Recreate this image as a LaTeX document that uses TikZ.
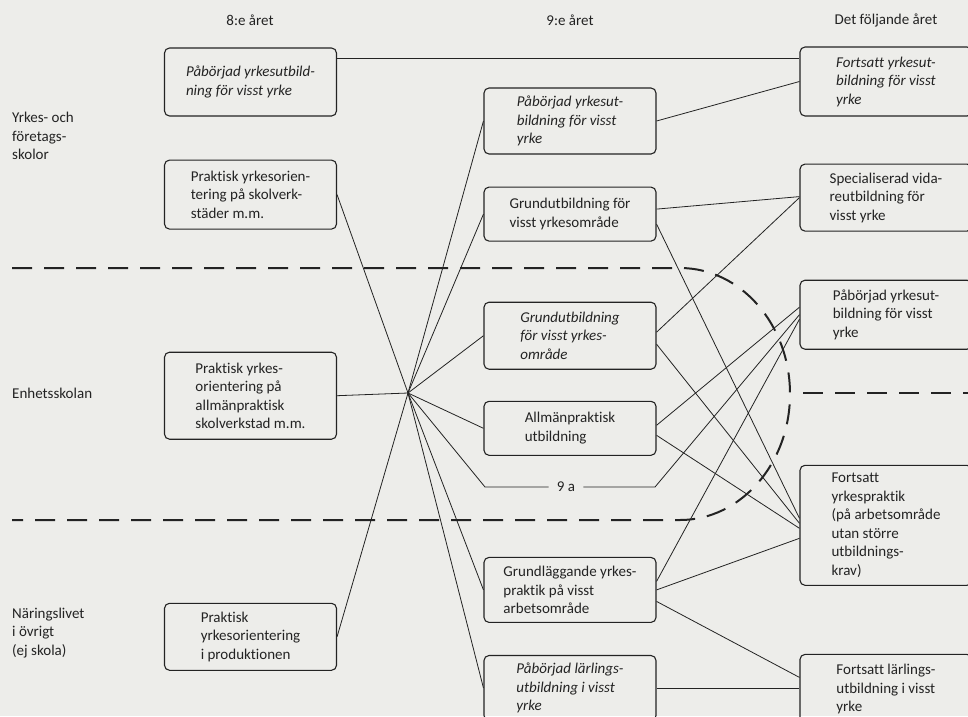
\documentclass[tikz,border=0pt]{standalone}
\usepackage{fontspec}
\setmainfont{Carlito}[Ligatures=NoCommon]
\usepackage{xcolor}
\usetikzlibrary{positioning}
\definecolor{paper}{RGB}{237,237,234}
\definecolor{ink}{RGB}{35,35,35}
\newcommand{\boxfont}{\fontsize{15}{18.5}\selectfont}
\tikzstyle{box}=  [draw=ink,
text=ink,
rounded corners=5pt,
line width=1.1pt,
align=left,
minimum width=172pt,
inner sep=4pt,
font=\boxfont,
]
\tikzstyle{itbox}=[box,
font=\boxfont\itshape,
]
\tikzstyle{lbl}=  [text=ink,
align=left,
anchor=west,
inner sep=0pt,
]
\tikzstyle{conn}= [draw=ink,
line width=0.8pt,
]
\tikzstyle{sep}=  [draw=ink,
line width=2pt,
dash pattern=on 20pt off 12pt,
]

\begin{document}
\begin{tikzpicture}[x=1pt,y=1pt,font=\boxfont]
        \fill[paper] (0,0) rectangle (968,-716);
        \useasboundingbox (0,0) rectangle (968,-716);

        \node[text=ink] (h8) at (250,-20) {8:e året};
        \node[text=ink] (h9) at (570,-20) {9:e året};
        \node[text=ink] (hnext) at (886,-20) {Det följande året};

        \node[lbl] (yrkes) at (12,-136) {Yrkes- och\\företags-\\skolor};
        \node[lbl] (enhet) at (12,-393) {Enhetsskolan};
        \node[lbl] (naring) at (12,-633) {Näringslivet\\i övrigt\\(ej skola)};

        % 8:e aret
        \node[itbox, minimum height=68pt] (b81) at (250.5,-82) {Påbörjad yrkesutbild-\\ning för visst yrke};
        \node[box, minimum height=69pt, below=43pt of b81] (b82) {Praktisk yrkesorien-\\tering på skolverk-\\städer m.m.};
        \node[box, minimum height=87pt, below=122pt of b82] (b83) {Praktisk yrkes-\\orientering på\\allmänpraktisk\\skolverkstad m.m.};
        \node[box, minimum height=67pt, below=163pt of b83] (b84) {Praktisk\\yrkesorientering\\i produktionen};

        % 9:e aret
        \node[itbox, minimum height=66pt] (c1) at (570,-121) {Påbörjad yrkesut-\\bildning för visst\\yrke};
        \node[box, minimum height=54pt, below=32pt of c1] (c2) {Grundutbildning för\\visst yrkesområde};
        \node[itbox, minimum height=67pt, below=60pt of c2] (c3) {Grundutbildning\\för visst yrkes-\\område};
        \node[box, minimum height=54pt, below=31pt of c3] (c4) {Allmänpraktisk\\utbildning};
        \node[box, minimum height=65pt, below=101pt of c4] (c6) {Grundläggande yrkes-\\praktik på visst\\arbetsområde};
        \node[itbox, minimum height=65pt, below=32pt of c6] (c7) {Påbörjad lärlings-\\utbildning i visst\\yrke};
        \node[text=ink, inner sep=8pt] (nine) at (566,-487) {9 a};
        \coordinate (nineL) at (485,-487);
        \coordinate (nineR) at (655,-487);

        % det foljande aret
        \node[itbox, minimum height=69pt] (d1) at (886,-81.5) {Fortsatt yrkesut-\\bildning för visst\\yrke};
        \node[box, minimum height=67pt, below=47pt of d1] (d2) {Specialiserad vida-\\reutbildning för\\visst yrke};
        \node[box, minimum height=69pt, below=48pt of d2] (d3) {Påbörjad yrkesut-\\bildning för visst\\yrke};
        \node[box, minimum height=120pt, below=115pt of d3] (d4) {Fortsatt\\yrkespraktik\\(på arbetsområde\\utan större\\utbildnings-\\krav)};
        \node[box, minimum height=70pt, below=68pt of d4] (d5) {Fortsatt lärlings-\\utbildning i visst\\yrke};

        \coordinate (hub) at (408,-393);

        \draw[sep] (12,-268) -- (680,-268) arc[start angle=90, end angle=-90, x radius=110, y radius=126] -- (12,-520);
        \draw[sep] (803,-393) -- (975,-393);

        \draw[conn] ([yshift=24pt]b81.east) -- ([yshift=24pt]b81.east -| d1.west);
        \draw[conn] (b82.east) -- (hub) (b83.east) -- (hub) (b84.east) -- (hub);
        \foreach \n in {c1,c2,c3,c4,c6,c7}
            \draw[conn] (hub) -- (\n.west);
        \draw[conn] (hub) -- (nineL) -- (nine) (nine) -- (nineR) -- (d3.west);

        \draw[conn] (c1.east) -- (d1.west);
        \draw[conn] ([yshift=5pt]c2.east) -- ([yshift=1pt]d2.west)
        ([yshift=-10pt]c2.east) -- ([yshift=7pt]d4.west);
        \draw[conn] ([yshift=3.5pt]c3.east) -- (d2.west)
        ([yshift=-8.5pt]c3.east) -- ([yshift=2pt]d4.west);
        \draw[conn] ([yshift=3pt]c4.east) -- ([yshift=7.5pt]d3.west)
        ([yshift=-7pt]c4.east) -- ([yshift=-3pt]d4.west);
        \draw[conn] ([yshift=8.5pt]c6.east) -- ([yshift=-4.5pt]d3.west)
        (c6.east) -- ([yshift=-13pt]d4.west)
        ([yshift=-11.5pt]c6.east) -- ([yshift=12pt]d5.west);
        \draw[conn] (c7.east) -- (c7.east -| d5.west);
    \end{tikzpicture}
\end{document}
